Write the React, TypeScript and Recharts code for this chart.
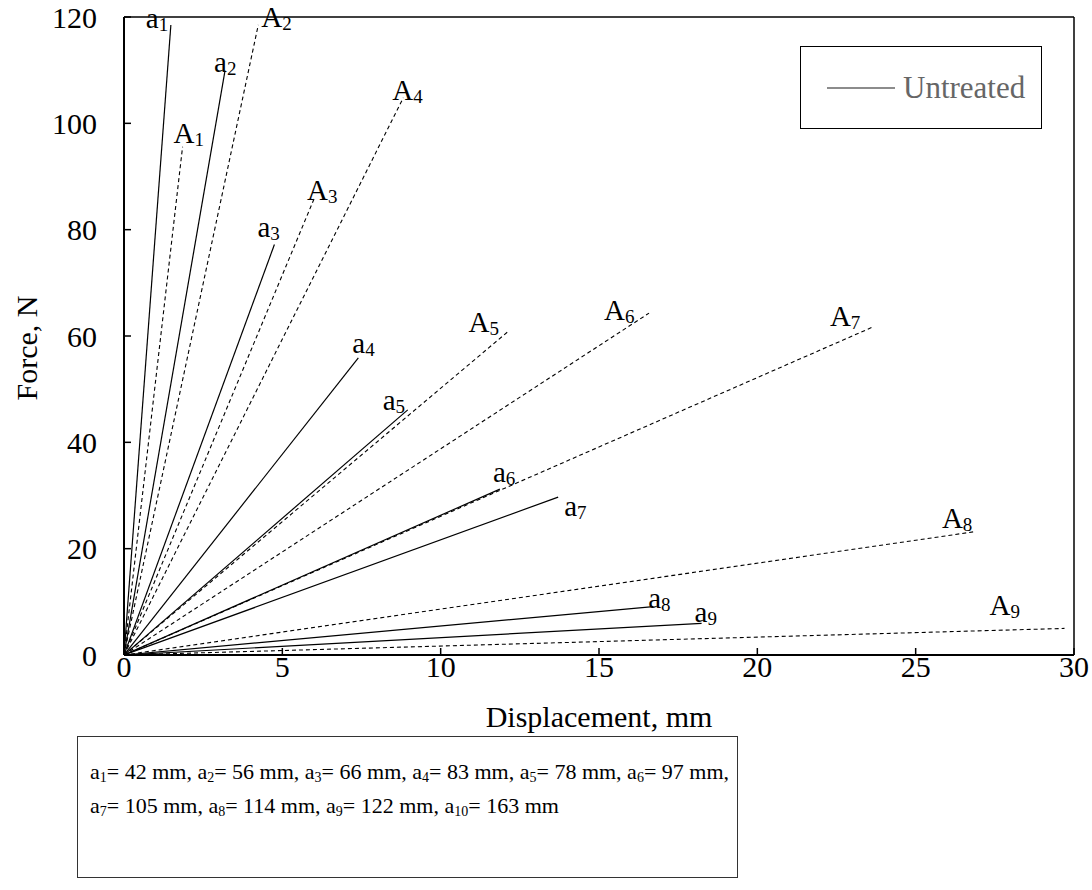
import React from "react"
import { LineChart, Line, XAxis, YAxis, Legend, LabelList } from "recharts"

const FONT = '"Liberation Serif", "Times New Roman", serif'

const xTicks = [0, 5, 10, 15, 20, 25, 30]
const yTicks = [0, 20, 40, 60, 80, 100, 120]

// every curve starts at the origin; these are the end points
const curveIndex = ["1", "2", "3", "4", "5", "6", "7", "8", "9"]
const untreatedDisp = [1.48, 3.19, 4.75, 7.4, 8.96, 11.87, 13.71, 16.71, 18.24]
const untreatedForce = [118.5, 109.9, 77.2, 55.9, 46.1, 31.2, 29.7, 9.1, 5.96]
const treatedDisp = [1.85, 4.24, 6.03, 8.82, 12.14, 16.58, 23.65, 26.87, 29.7]
const treatedForce = [95.6, 118.5, 86.2, 104.8, 60.9, 64.3, 61.7, 23.2, 5.0]

// note box under the chart
const noteIndex = ["1", "2", "3", "4", "5", "6", "7", "8", "9", "10"]
const noteLength = [42, 56, 66, 83, 78, 97, 105, 114, 122, 163]

// label nudges (px) from each curve end
const untreatedLabelShift = [[-25, 3], [-11, 1], [-17, -8], [-6, -5], [-25, 0], [-7, -7], [6, 19], [-5, 1], [-7, -1]]
const treatedLabelShift = [[-9, -4], [3, 2], [-8, 3], [-11, 2], [-40, 1], [-45, 7], [-43, -1], [-33, -4], [-75, -13]]

const makeLabel = (letter: string, num: string, dx: number, dy: number) => (props: any) => {
  const vb = props.viewBox || {}
  const x = props.x ?? vb.x
  const y = props.y ?? vb.y
  if (!props.value) return null
  return (
    <text x={x + dx} y={y + dy} fontFamily={FONT} fontSize={29} fill="#000">
      {letter}
      <tspan fontSize={19} dy={3}>{num}</tspan>
    </text>
  )
}

const renderLegend = () => (
  <div
    style={{
      width: 242,
      height: 83,
      boxSizing: "border-box",
      border: "1.5px solid #000",
      background: "#fff",
      display: "flex",
      alignItems: "center",
      paddingLeft: 26,
      fontFamily: FONT,
      fontSize: 31,
      color: "#666",
    }}
  >
    <svg width={68} height={4} style={{ marginRight: 8 }}>
      <line x1={0} y1={2} x2={68} y2={2} stroke="#666" strokeWidth={1.5} />
    </svg>
    Untreated
  </div>
)

export default function App() {
  const untreated = curveIndex.map((n, i) => ({
    n,
    data: [
      { x: 0, y: 0 },
      { x: untreatedDisp[i], y: untreatedForce[i] },
    ],
  }))
  const treated = curveIndex.map((n, i) => ({
    n,
    data: [
      { x: 0, y: 0 },
      { x: treatedDisp[i], y: treatedForce[i] },
    ],
  }))

  const tickStyle = { fontFamily: FONT, fontSize: 30, fill: "#000" }

  return (
    <div style={{ position: "absolute", left: 0, top: 0, width: 1092, height: 890, overflow: "hidden", background: "#fff" }}>
      <LineChart width={1092} height={890} margin={{ top: 16, right: 17, left: 44, bottom: 135 }}>
        <XAxis
          xAxisId="main"
          type="number"
          dataKey="x"
          domain={[0, 30]}
          ticks={xTicks}
          allowDataOverflow
          height={100}
          tickSize={-7}
          tickMargin={8}
          tick={tickStyle}
          axisLine={{ stroke: "#000", strokeWidth: 2 }}
          tickLine={{ stroke: "#000", strokeWidth: 1.5 }}
          label={{
            content: (p: any) => {
              const vb = p.viewBox
              return (
                <text x={vb.x + vb.width / 2} y={vb.y + 72} textAnchor="middle" fontFamily={FONT} fontSize={30} fill="#000">
                  Displacement, mm
                </text>
              )
            },
          }}
        />
        <XAxis
          xAxisId="top"
          orientation="top"
          type="number"
          dataKey="x"
          domain={[0, 30]}
          ticks={xTicks}
          height={1}
          tickSize={-7}
          tick={false}
          axisLine={{ stroke: "#000", strokeWidth: 1.5 }}
          tickLine={{ stroke: "#000", strokeWidth: 1.5 }}
        />
        <YAxis
          yAxisId="main"
          type="number"
          domain={[0, 120]}
          ticks={yTicks}
          allowDataOverflow
          width={80}
          tickSize={-7}
          tickMargin={34}
          tick={tickStyle}
          axisLine={{ stroke: "#000", strokeWidth: 2 }}
          tickLine={{ stroke: "#000", strokeWidth: 1.5 }}
          label={{
            content: (p: any) => {
              const vb = p.viewBox
              const cx = vb.x - 18
              const cy = vb.y + vb.height / 2 + 12
              return (
                <text x={cx} y={cy} transform={`rotate(-90 ${cx} ${cy})`} textAnchor="middle" dominantBaseline="central" fontFamily={FONT} fontSize={30} fill="#000">
                  Force, N
                </text>
              )
            },
          }}
        />
        <YAxis
          yAxisId="right"
          orientation="right"
          type="number"
          domain={[0, 120]}
          ticks={yTicks}
          width={1}
          tickSize={-7}
          tick={false}
          axisLine={{ stroke: "#000", strokeWidth: 1.5 }}
          tickLine={{ stroke: "#000", strokeWidth: 1.5 }}
        />

        {treated.map((s, i) => (
          <Line
            key={`A${s.n}`}
            xAxisId="main"
            yAxisId="main"
            data={s.data}
            dataKey="y"
            stroke="#000"
            strokeWidth={1.1}
            strokeDasharray="4 3"
            dot={false}
            activeDot={false}
            legendType="none"
            isAnimationActive={false}
          >
            <LabelList dataKey="y" content={makeLabel("A", s.n, treatedLabelShift[i][0], treatedLabelShift[i][1])} />
          </Line>
        ))}
        {untreated.map((s, i) => (
          <Line
            key={`a${s.n}`}
            xAxisId="main"
            yAxisId="main"
            data={s.data}
            dataKey="y"
            stroke="#000"
            strokeWidth={1.2}
            dot={false}
            activeDot={false}
            legendType="none"
            isAnimationActive={false}
          >
            <LabelList dataKey="y" content={makeLabel("a", s.n, untreatedLabelShift[i][0], untreatedLabelShift[i][1])} />
          </Line>
        ))}

        <Legend
          layout="horizontal"
          verticalAlign="middle"
          align="center"
          content={renderLegend}
          wrapperStyle={{ position: "absolute", left: 800, top: 46, width: 242, height: 83 }}
        />
      </LineChart>

      <div
        style={{
          position: "absolute",
          left: 77,
          top: 736,
          width: 661,
          height: 142,
          boxSizing: "border-box",
          border: "1px solid #333",
          padding: "18px 0 0 12px",
          fontFamily: FONT,
          fontSize: 22,
          lineHeight: "34px",
          color: "#000",
          whiteSpace: "nowrap",
        }}
      >
        {noteIndex.map((n, i) => (
          <React.Fragment key={n}>
            a<sub style={{ fontSize: 14, lineHeight: 0, verticalAlign: "-3px" }}>{n}</sub>= {noteLength[i]} mm
            {i < noteIndex.length - 1 ? "," : ""}
            {i === 5 ? <br /> : " "}
          </React.Fragment>
        ))}
      </div>
    </div>
  )
}
